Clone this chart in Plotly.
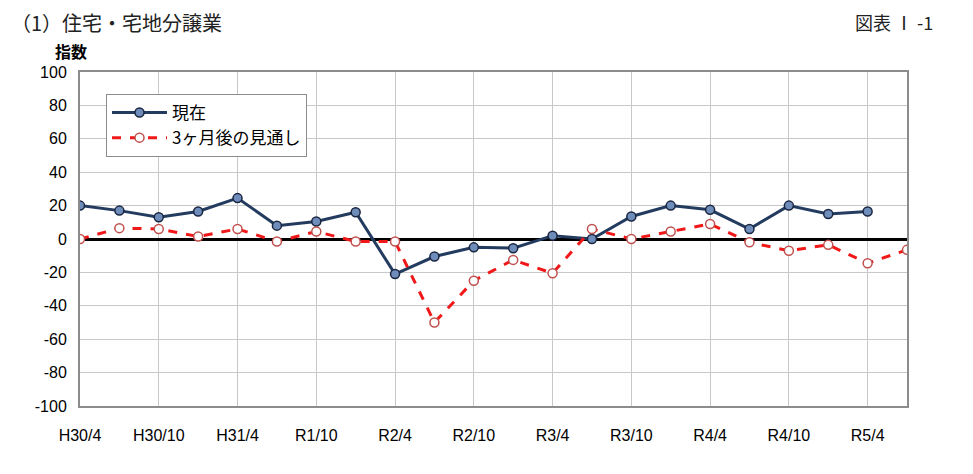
import plotly.graph_objects as go

# Quarter categories (H30/4 .. R5/7)
quarters = ["H30/4", "H30/7", "H30/10", "H31/1", "H31/4", "R1/7", "R1/10", "R2/1",
            "R2/4", "R2/7", "R2/10", "R3/1", "R3/4", "R3/7", "R3/10", "R4/1",
            "R4/4", "R4/7", "R4/10", "R5/1", "R5/4", "R5/7"]
tick_labels = ["H30/4", "H30/10", "H31/4", "R1/10", "R2/4", "R2/10",
               "R3/4", "R3/10", "R4/4", "R4/10", "R5/4"]

current = [20, 17, 13, 16.5, 24.5, 8, 10.5, 16, -21, -10.5, -5, -5.5,
           2, 0, 13.5, 20, 17.5, 6, 20, 15, 16.5]
outlook = [0, 6.5, 6, 1.5, 6, -1.5, 4.5, -1.5, -1.5, -50, -25, -12.5,
           -20.5, 6, 0, 4.5, 9, -2, -7, -3.5, -14.5, -6.5]

y_ticks = list(range(-100, 101, 20))
y_tick_text = [str(v) for v in y_ticks]

JP = "Noto Sans CJK JP"
NUM = "Liberation Sans Narrow, Liberation Sans, Arial"

PW, PH = 827, 334  # plot area size in px

fig = go.Figure()
fig.add_trace(go.Scatter(
    x=quarters[:len(current)], y=current, name="現在", mode="lines+markers",
    line=dict(color="#233B5F", width=3),
    marker=dict(size=9, color="#6F8DBA", line=dict(color="#1A2640", width=1.5)),
))
fig.add_trace(go.Scatter(
    x=quarters[:len(outlook)], y=outlook, name="3ヶ月後の見通し", mode="lines+markers",
    line=dict(color="#F01818", width=3, dash="dash"),
    marker=dict(size=9, color="white", line=dict(color="#C0504D", width=1.5)),
))

fig.update_layout(
    width=973, height=474,
    margin=dict(l=72, r=74, t=64, b=76),
    paper_bgcolor="white", plot_bgcolor="white",
    showlegend=True,
    legend=dict(x=26 / PW, y=1 - 22 / PH, xanchor="left", yanchor="top",
                bgcolor="white", bordercolor="#8C8C8C", borderwidth=1,
                font=dict(family=JP, size=17, color="black"),
                tracegroupgap=0, itemwidth=55),
    font=dict(family=NUM, color="black"),
)

fig.update_xaxes(
    type="category", categoryorder="array", categoryarray=quarters,
    range=[0, len(quarters) - 1],
    tickmode="array", tickvals=tick_labels, ticktext=tick_labels,
    showgrid=True, gridcolor="#C8C8C8", gridwidth=1,
    showline=True, linecolor="#8C8C8C", linewidth=2, mirror=True,
    ticks="", ticklabelstandoff=14,
    tickfont=dict(family=NUM, size=16, color="black"),
    zeroline=False,
)
fig.update_yaxes(
    range=[-100, 100], tickmode="array", tickvals=y_ticks, ticktext=y_tick_text,
    showgrid=True, gridcolor="#C8C8C8", gridwidth=1,
    showline=True, linecolor="#8C8C8C", linewidth=2, mirror=True,
    ticks="", ticklabelstandoff=8,
    tickfont=dict(family=NUM, size=16, color="black"),
    zeroline=True, zerolinecolor="black", zerolinewidth=2.5,
)

fig.add_annotation(text="（1）住宅・宅地分譲業", xref="paper", yref="paper",
                   x=-71 / PW, y=1 + 50 / PH, xanchor="left", yanchor="middle",
                   showarrow=False, font=dict(family=JP, size=20, color="#222"))
fig.add_annotation(text="図表 Ⅰ -1", xref="paper", yref="paper",
                   x=1 + 28 / PW, y=1 + 50 / PH, xanchor="right", yanchor="middle",
                   showarrow=False, font=dict(family=JP, size=18, color="#222"))
fig.add_annotation(text="<b>指数</b>", xref="paper", yref="paper",
                   x=-9 / PW, y=1 + 21 / PH, xanchor="center", yanchor="middle",
                   showarrow=False, font=dict(family=JP, size=16, color="black"))

fig.write_html("out.html")
